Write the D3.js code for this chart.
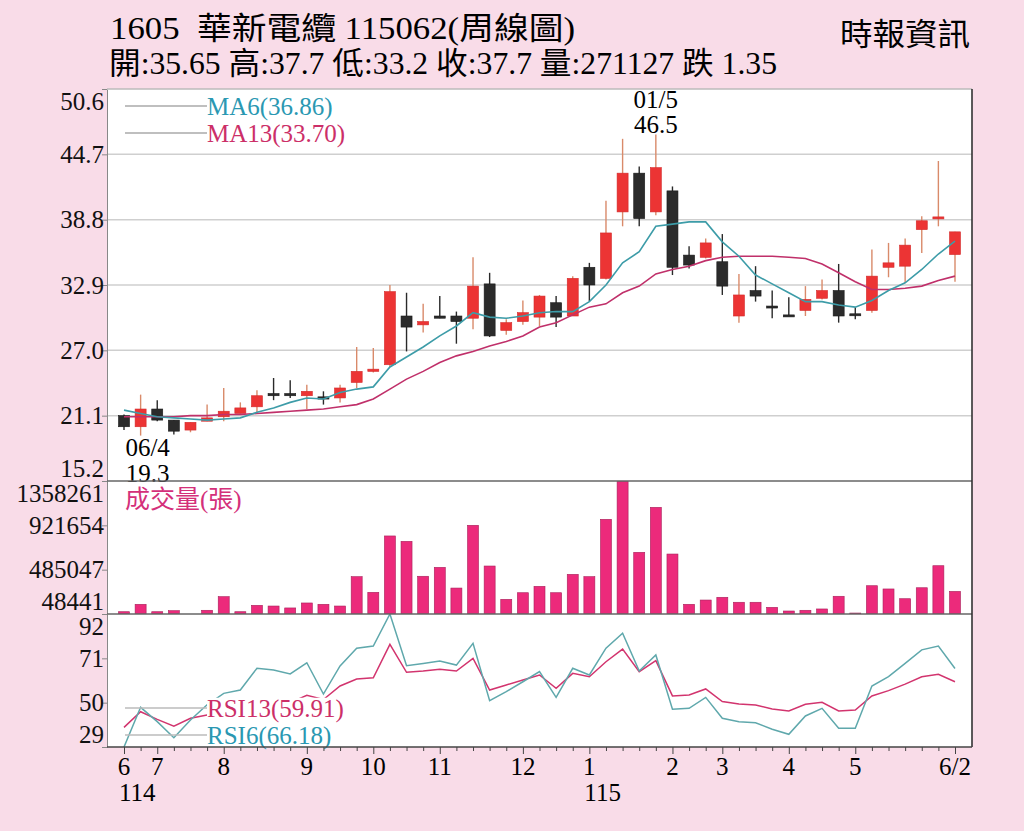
<!DOCTYPE html>
<html>
<head>
<meta charset="utf-8">
<script src="https://cdn.jsdelivr.net/npm/d3@7"></script>
<style>
  body { margin: 0; background: #f9dce8; }
  text { font-family: "Liberation Serif", "Noto Sans CJK TC", serif; }
</style>
</head>
<body>
<svg id="chart" width="1024" height="831"></svg>
<script>
// weekly candles, 114/06 .. 115/06
const open  = [21.1, 20.1, 21.7, 20.7, 19.8, 20.6, 21.0, 21.3, 21.9, 23.1, 23.1, 22.9, 22.8, 22.7, 24.1, 25.1, 25.7, 30.1, 29.3, 30.1, 30.1, 29.9, 33.0, 28.8, 29.6, 30.0, 31.3, 30.1, 34.5, 33.5, 39.5, 43.0, 39.5, 41.4, 35.6, 35.4, 35.0, 30.1, 32.4, 31.0, 30.2, 30.6, 31.7, 32.4, 30.3, 30.6, 34.5, 34.6, 37.9, 38.95, 35.65];
const high  = [21.2, 23.0, 22.5, 20.7, 20.5, 22.1, 23.6, 22.3, 23.4, 24.5, 24.3, 23.9, 23.3, 23.9, 27.3, 27.2, 32.9, 32.2, 31.2, 31.9, 30.5, 35.4, 34.0, 29.8, 31.5, 32.0, 31.9, 33.7, 34.9, 40.5, 46.1, 43.6, 46.5, 41.8, 36.4, 37.1, 37.5, 33.9, 34.6, 32.4, 31.8, 32.8, 33.4, 34.8, 30.9, 36.1, 36.7, 37.1, 39.1, 44.1, 37.7];
const low   = [19.8, 19.3, 20.6, 19.4, 19.6, 20.6, 20.6, 21.3, 21.4, 22.5, 22.7, 21.7, 22.1, 22.3, 23.6, 25.0, 25.5, 26.9, 28.6, 29.9, 27.6, 28.9, 28.2, 28.4, 29.3, 29.2, 29.1, 30.1, 31.4, 33.4, 38.2, 38.2, 39.2, 33.8, 34.4, 35.3, 32.0, 29.5, 31.4, 29.9, 30.1, 30.1, 31.6, 29.5, 29.8, 30.4, 33.6, 33.1, 35.8, 38.2, 33.2];
const close = [20.1, 21.7, 20.7, 19.7, 20.5, 20.9, 21.5, 21.8, 22.9, 22.9, 22.9, 23.3, 22.6, 23.6, 25.1, 25.3, 32.3, 29.1, 29.6, 29.9, 29.6, 32.8, 28.3, 29.5, 30.4, 31.9, 30.0, 33.5, 32.9, 37.6, 43.0, 38.9, 43.5, 34.5, 34.7, 36.7, 32.8, 32.0, 31.9, 30.9, 30.1, 31.6, 32.4, 30.1, 30.2, 33.7, 34.9, 36.5, 38.7, 39.05, 37.7];
const volume = [71000, 144000, 71000, 81000, 48441, 85000, 219000, 71000, 134000, 127000, 108000, 157000, 144000, 127000, 416000, 262000, 817000, 764000, 420000, 508000, 304000, 922000, 521000, 193000, 258000, 321000, 258000, 439000, 416000, 981000, 1358261, 656000, 1099000, 639000, 144000, 186000, 213000, 164000, 164000, 114000, 78000, 85000, 98000, 223000, 58000, 327000, 295000, 199000, 307000, 524000, 271127];
const ma6  = [21.6, 21.3, 21.0, 20.9, 20.8, 20.7, 20.8, 20.9, 21.4, 21.8, 22.3, 22.7, 22.6, 23.2, 23.5, 23.7, 25.5, 26.4, 27.3, 28.3, 29.2, 30.4, 30.0, 29.9, 30.1, 30.4, 30.5, 30.5, 31.4, 32.9, 34.9, 35.9, 38.2, 38.4, 38.6, 38.6, 36.8, 35.5, 33.8, 33.0, 32.2, 31.4, 31.4, 31.1, 30.9, 31.5, 32.4, 33.1, 34.3, 35.7, 36.86];
const ma13 = [21.0, 21.0, 21.0, 21.0, 21.1, 21.1, 21.2, 21.2, 21.3, 21.4, 21.5, 21.6, 21.7, 21.9, 22.1, 22.6, 23.5, 24.4, 25.1, 25.9, 26.5, 26.9, 27.4, 27.8, 28.3, 29.1, 29.5, 30.2, 30.9, 31.2, 32.2, 32.8, 33.9, 34.3, 34.6, 35.1, 35.4, 35.5, 35.5, 35.5, 35.4, 35.3, 34.8, 34.0, 33.2, 32.5, 32.5, 32.6, 32.8, 33.3, 33.70];
const rsi6  = [29, 47.8, 41, 33.4, 41.8, 49, 54.4, 56.0, 66.3, 65.5, 63.6, 68.9, 54.1, 67.4, 75.8, 76.8, 92, 67.5, 68.6, 69.7, 67.8, 78.1, 50.9, 55.2, 59.9, 64.7, 52.5, 66.3, 63.1, 75.8, 82.9, 65.0, 72.6, 46.9, 47.3, 52.5, 42.6, 41.0, 40.5, 37.4, 35.0, 43.7, 47.3, 37.9, 37.9, 57.9, 62.3, 68.6, 75.0, 76.8, 66.18];
const rsi13 = [38.3, 45.7, 42.1, 38.9, 42.6, 44.2, 45.5, 46.5, 48, 49, 50, 53.5, 51.5, 57.9, 61.2, 61.8, 77.6, 64.4, 65.0, 65.8, 65.0, 71.0, 56.0, 58.4, 60.7, 63.1, 56.8, 63.9, 62.3, 69.4, 75.4, 64.7, 69.9, 53.2, 53.6, 56.5, 50.5, 49.4, 48.9, 47.0, 46.1, 49.2, 50.2, 46.1, 46.5, 53.2, 55.7, 58.8, 62.3, 63.4, 59.91];

const priceTicks = [15.2, 21.1, 27.0, 32.9, 38.8, 44.7, 50.6];
const volTicks = [48441, 485047, 921654, 1358261];
const rsiTicks = [29, 50, 71, 92];
// [week index, label]
const monthTicks = [[0, "6"], [2, "7"], [6, "8"], [11, "9"], [15, "10"], [19, "11"], [24, "12"], [28, "1"], [33, "2"], [36, "3"], [40, "4"], [44, "5"], [50, "6/2"]];
const yearTicks = [[0, "114"], [28, "115"]];

const svg = d3.select("#chart");
const L = 107, R = 972, T1 = 89, B1 = 481, B2 = 614, B3 = 747;
const n = close.length;

svg.append("rect").attr("width", 1024).attr("height", 831).attr("fill", "#f9dce8");
svg.append("rect").attr("x", L).attr("y", T1).attr("width", R - L).attr("height", B3 - T1).attr("fill", "#fff");

const x = d3.scaleLinear().domain([0, n - 1]).range([124, 955]);
const y = d3.scaleLinear().domain([15.2, 50.6]).range([B1, T1]);
const yv = d3.scaleLinear().domain([48441, 1358261]).range([B2, B1]);
const yr = d3.scaleLinear().domain([29, 92]).range([B3, B2]);

const defs = svg.append("defs");
[["c1", T1, B1], ["c2", B1, B2], ["c3", B2, B3]].forEach(([id, a, b]) => {
  defs.append("clipPath").attr("id", id).append("rect")
    .attr("x", L).attr("y", a).attr("width", R - L).attr("height", b - a);
});

// header
svg.append("text").attr("x", 110).attr("y", 39).attr("font-size", 31).style("white-space", "pre")
  .attr("textLength", 465).attr("lengthAdjust", "spacingAndGlyphs")
  .text("1605  華新電纜 115062(周線圖)");
svg.append("text").attr("x", 109).attr("y", 74).attr("font-size", 31)
  .attr("textLength", 668).attr("lengthAdjust", "spacingAndGlyphs")
  .text("開:35.65 高:37.7 低:33.2 收:37.7 量:271127 跌 1.35");
svg.append("text").attr("x", 970).attr("y", 45).attr("font-size", 31).attr("text-anchor", "end")
  .attr("textLength", 130).attr("lengthAdjust", "spacingAndGlyphs")
  .text("時報資訊");

// grid
svg.append("g").selectAll("line").data(priceTicks.slice(1, -1)).join("line")
  .attr("x1", L).attr("x2", R).attr("y1", d => y(d)).attr("y2", d => y(d))
  .attr("stroke", "#cfcfcf").attr("stroke-width", 1.5);

// left axes with clamped labels
function leftAxis(scale, ticks, fmt, top, bottom) {
  const g = svg.append("g").attr("transform", `translate(${L},0)`)
    .call(d3.axisLeft(scale).tickValues(ticks).tickFormat(fmt).tickSizeInner(5).tickSizeOuter(0));
  g.select(".domain").attr("stroke", "#888");
  g.selectAll(".tick line").attr("stroke", "#888");
  g.selectAll(".tick text").attr("font-size", 25).attr("fill", "#111").attr("x", -3)
    .attr("font-family", "Liberation Serif")
    .attr("y", d => {
      const p = scale(d);
      if (p < top + 12) return top + 12 - p;
      if (p > bottom - 13) return bottom - 13 - p;
      return 0;
    });
}
leftAxis(y, priceTicks, d3.format(".1f"), T1, B1);
leftAxis(yv, volTicks, d => d, B1, B2);
leftAxis(yr, rsiTicks, d => d, B2, B3);

// candles
const cg = svg.append("g").attr("clip-path", "url(#c1)");
const up = i => close[i] >= open[i];
cg.selectAll("line.wick").data(d3.range(n)).join("line")
  .attr("x1", i => x(i)).attr("x2", i => x(i))
  .attr("y1", i => y(high[i])).attr("y2", i => y(low[i]))
  .attr("stroke", i => up(i) ? "#d98a6a" : "#2a2a2a").attr("stroke-width", 1.4);
cg.selectAll("rect").data(d3.range(n)).join("rect")
  .attr("x", i => x(i) - 5.5).attr("width", 11)
  .attr("y", i => y(Math.max(open[i], close[i])))
  .attr("height", i => Math.max(2, Math.abs(y(open[i]) - y(close[i]))))
  .attr("fill", i => up(i) ? "#ec3434" : "#2b2b2b")
  .attr("stroke", i => up(i) ? "#d42a2a" : "#1a1a1a").attr("stroke-width", 0.6);

const line = s => d3.line().x((d, i) => x(i)).y(d => s(d));
cg.append("path").datum(ma13).attr("d", line(y)).attr("fill", "none").attr("stroke", "#c0306a").attr("stroke-width", 1.6);
cg.append("path").datum(ma6).attr("d", line(y)).attr("fill", "none").attr("stroke", "#3d9ca8").attr("stroke-width", 1.6);

// MA legend
[["MA6(36.86)", 106, "#2a98b2"], ["MA13(33.70)", 133, "#cc2f68"]].forEach(([t, yy, c]) => {
  svg.append("line").attr("x1", 125).attr("x2", 207).attr("y1", yy).attr("y2", yy).attr("stroke", "#aaa").attr("stroke-width", 1.3);
  svg.append("text").attr("x", 207).attr("y", yy).attr("dy", "0.35em").attr("font-size", 25).attr("fill", c).text(t);
});

// high / low notes
svg.append("text").attr("x", x(32)).attr("y", 108).attr("font-size", 25).attr("text-anchor", "middle").text("01/5");
svg.append("text").attr("x", x(32)).attr("y", 133).attr("font-size", 25).attr("text-anchor", "middle").text("46.5");
svg.append("text").attr("x", x(1) + 7).attr("y", 456).attr("font-size", 25).attr("text-anchor", "middle").text("06/4");
svg.append("text").attr("x", x(1) + 7).attr("y", 482).attr("font-size", 25).attr("text-anchor", "middle").text("19.3");

// volume
const vg = svg.append("g").attr("clip-path", "url(#c2)");
vg.selectAll("rect").data(volume).join("rect")
  .attr("x", (d, i) => x(i) - 5.5).attr("width", 11)
  .attr("y", d => yv(d)).attr("height", d => B2 - yv(d))
  .attr("fill", "#ec2a7b").attr("stroke", "#a8205a").attr("stroke-width", 0.6);
svg.append("text").attr("x", 125).attr("y", 508).attr("font-size", 25).attr("fill", "#d4307a").text("成交量(張)");

// RSI
const rg = svg.append("g").attr("clip-path", "url(#c3)");
rg.append("path").datum(rsi13).attr("d", line(yr)).attr("fill", "none").attr("stroke", "#d2346e").attr("stroke-width", 1.5);
rg.append("path").datum(rsi6).attr("d", line(yr)).attr("fill", "none").attr("stroke", "#5fa8ac").attr("stroke-width", 1.5);
[["RSI13(59.91)", 708, "#cc2f68"], ["RSI6(66.18)", 735, "#2a98b2"]].forEach(([t, yy, c]) => {
  const bg = svg.append("rect").attr("fill", "#fff");
  svg.append("line").attr("x1", 125).attr("x2", 207).attr("y1", yy).attr("y2", yy).attr("stroke", "#bbb").attr("stroke-width", 1.3);
  const tx = svg.append("text").attr("x", 207).attr("y", yy).attr("dy", "0.35em").attr("font-size", 25).attr("fill", c).text(t);
  const b = tx.node().getBBox();
  bg.attr("x", b.x).attr("y", b.y + 3).attr("width", b.width).attr("height", b.height - 5);
});

// panel borders
[[T1, "#bbb"], [B1, "#666"], [B2, "#666"]].forEach(([yy, c]) => {
  svg.append("line").attr("x1", L).attr("x2", R).attr("y1", yy).attr("y2", yy).attr("stroke", c).attr("stroke-width", 1.6);
});
svg.append("line").attr("x1", R).attr("x2", R).attr("y1", T1).attr("y2", B3).attr("stroke", "#333").attr("stroke-width", 1.6);

// bottom axis
const monthIdx = monthTicks.map(d => d[0]);
const xa = svg.append("g").attr("transform", `translate(0,${B3})`)
  .call(d3.axisBottom(x).tickValues(d3.range(n)).tickFormat("").tickSizeInner(4).tickSizeOuter(0));
xa.select(".domain").attr("stroke", "#444").attr("stroke-width", 1.6).attr("d", `M${L},0H${R}`);
xa.selectAll(".tick line").attr("stroke", "#444").attr("y2", d => monthIdx.includes(d) ? 7 : 4);
svg.append("g").selectAll("text").data(monthTicks).join("text")
  .attr("x", d => x(d[0])).attr("y", 775).attr("font-size", 25).attr("text-anchor", "middle").text(d => d[1]);
svg.append("g").selectAll("text").data(yearTicks).join("text")
  .attr("x", d => x(d[0]) - 5).attr("y", 801).attr("font-size", 25).text(d => d[1]);
</script>
</body>
</html>
